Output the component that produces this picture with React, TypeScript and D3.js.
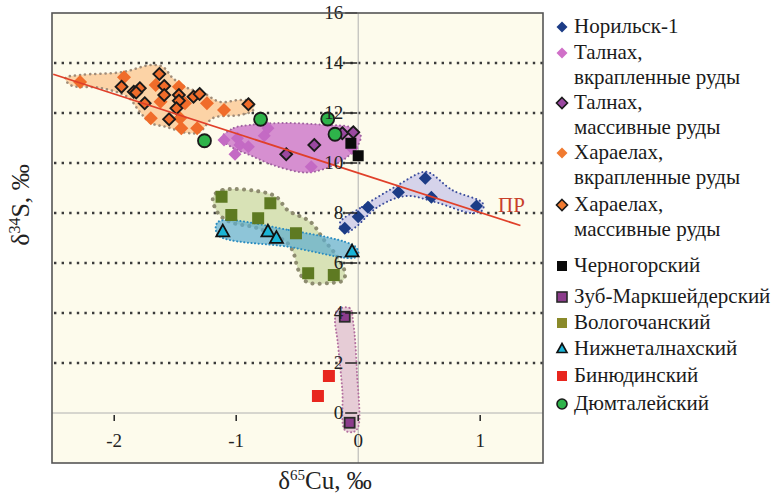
import React from "react";
import * as d3 from "d3";

type P = [number, number];

const xTicks = [-2, -1, 0, 1];
const yTicks = [0, 2, 4, 6, 8, 10, 12, 14, 16];
const gridY = [2, 4, 6, 8, 10, 12, 14];

const norilsk1: P[] = [[-0.11, 7.39], [0.0, 7.85], [0.08, 8.23], [0.33, 8.83], [0.55, 9.39], [0.6, 8.63], [0.97, 8.28]];
const talnakhDiss: P[] = [[-1.1, 10.92], [-0.99, 10.99], [-0.97, 10.72], [-0.9, 10.65], [-1.01, 10.35], [-0.77, 11.09], [-0.74, 11.39], [-0.385, 9.85], [-0.05, 10.59]];
const talnakhMass: P[] = [[-0.59, 10.35], [-0.36, 10.72], [-0.13, 11.19], [-0.04, 11.23]];
const kharDiss: P[] = [[-2.28, 13.24], [-1.92, 13.43], [-1.66, 13.12], [-1.47, 13.05], [-1.62, 12.45], [-1.42, 12.39], [-1.24, 12.39], [-1.1, 12.12], [-1.7, 11.79], [-1.46, 11.79], [-1.45, 11.39], [-1.32, 11.39]];
const kharMass: P[] = [[-1.63, 13.56], [-1.94, 13.05], [-1.84, 12.85], [-1.79, 12.99], [-1.82, 12.82], [-1.59, 13.08], [-1.59, 12.72], [-1.47, 12.72], [-1.47, 12.49], [-1.49, 12.19], [-1.75, 12.39], [-1.55, 11.75], [-1.35, 12.65], [-1.3, 12.76], [-0.9, 12.35]];
const chernogorsk: P[] = [[-0.06, 10.79], [0.0, 10.29]];
const zub: P[] = [[-0.11, 3.85], [-0.07, -0.39]];
const vologo: P[] = [[-1.12, 8.65], [-0.72, 8.39], [-1.04, 7.92], [-0.82, 7.79], [-0.51, 7.19], [-0.41, 5.59], [-0.2, 5.52]];
const nizhne: P[] = [[-1.11, 7.25], [-0.74, 7.25], [-0.67, 6.99], [-0.05, 6.45]];
const binyud: P[] = [[-0.24, 1.48], [-0.33, 0.68]];
const dyumt: P[] = [[-1.26, 10.89], [-0.8, 11.75], [-0.25, 11.76], [-0.19, 11.15]];

const trendLine: P[] = [[-2.5, 13.55], [1.33, 7.5]];

const envKhar: P[] = [[-2.4, 13.4], [-2.28, 13.52], [-1.93, 13.64], [-1.7, 13.92], [-1.6, 13.84], [-1.52, 13.4], [-1.4, 13.0], [-1.27, 12.8], [-1.13, 12.44], [-0.97, 12.52], [-0.87, 12.44], [-0.86, 12.12], [-0.97, 11.92], [-1.19, 11.8], [-1.3, 11.24], [-1.4, 11.2], [-1.57, 11.44], [-1.7, 11.6], [-1.79, 12.04], [-1.89, 12.64], [-2.11, 13.0], [-2.36, 13.12]];
const envTalnakh: P[] = [[-1.12, 11.0], [-1.02, 11.4], [-0.89, 11.52], [-0.61, 11.6], [-0.25, 11.52], [-0.07, 11.44], [0.02, 11.12], [-0.01, 10.64], [-0.09, 10.24], [-0.2, 9.92], [-0.37, 9.64], [-0.48, 9.64], [-0.7, 9.92], [-0.89, 10.32], [-1.04, 10.64]];
const envVologo: P[] = [[-1.19, 8.64], [-1.11, 8.92], [-0.75, 8.8], [-0.66, 8.6], [-0.58, 8.12], [-0.39, 7.64], [-0.28, 6.92], [-0.17, 6.24], [-0.11, 5.64], [-0.12, 5.32], [-0.23, 5.2], [-0.42, 5.24], [-0.49, 5.72], [-0.53, 6.4], [-0.58, 6.8], [-0.83, 7.4], [-1.05, 7.64], [-1.15, 8.0]];
const envNizhne: P[] = [[-1.15, 7.64], [-0.57, 7.32], [-0.02, 6.64], [0.0, 6.32], [-0.04, 6.2], [-0.56, 6.64], [-1.15, 7.12]];
const envNorilsk: P[] = [[-0.15, 7.6], [0.03, 8.24], [0.3, 9.04], [0.53, 9.64], [0.59, 9.6], [0.77, 8.92], [1.02, 8.4], [1.02, 8.12], [0.93, 8.0], [0.63, 8.44], [0.39, 8.68], [0.16, 8.24], [-0.02, 7.44], [-0.11, 7.2]];
const envZub: P[] = [[-0.17, 4.12], [-0.07, 4.2], [-0.04, 3.6], [-0.01, 1.6], [0.0, -0.56], [-0.04, -0.76], [-0.11, -0.68], [-0.13, 0.92], [-0.17, 2.92], [-0.19, 3.72]];

const legendLabels = [
  ["Норильск-1"],
  ["Талнах,", "вкрапленные руды"],
  ["Талнах,", "массивные руды"],
  ["Хараелах,", "вкрапленные руды"],
  ["Хараелах,", "массивные руды"],
  ["Черногорский"],
  ["Зуб-Маркшейдерский"],
  ["Вологочанский"],
  ["Нижнеталнахский"],
  ["Бинюдинский"],
  ["Дюмталейский"],
];
const legendY = [27, 53, 103, 153, 205, 266, 297, 323, 349, 376, 404];

const W = 775, H = 495;
const L = 52, R = 543, T = 13, B = 463;

const x = d3.scaleLinear().domain([-2.51, 1.515]).range([L, R]);
const y = d3.scaleLinear().domain([-2, 16]).range([B, T]);

type Shape = "diamond" | "square" | "triangle" | "circle";
function marker(shape: Shape, cx: number, cy: number, s: number, fill: string, stroke: string | null, sw = 1.6, key?: any) {
  const st = stroke ? { stroke, strokeWidth: sw } : {};
  if (shape === "diamond") {
    const h = s;
    return <path key={key} d={`M${cx},${cy - h}L${cx + h},${cy}L${cx},${cy + h}L${cx - h},${cy}Z`} fill={fill} {...st} strokeLinejoin="miter" />;
  }
  if (shape === "square") {
    return <rect key={key} x={cx - s} y={cy - s} width={2 * s} height={2 * s} fill={fill} {...st} />;
  }
  if (shape === "triangle") {
    return <path key={key} d={`M${cx},${cy - s * 1.1}L${cx + s},${cy + s * 0.7}L${cx - s},${cy + s * 0.7}Z`} fill={fill} {...st} strokeLinejoin="miter" />;
  }
  return <circle key={key} cx={cx} cy={cy} r={s} fill={fill} {...st} />;
}

const series = [
  { data: norilsk1, shape: "diamond" as Shape, fill: "#1c3c86", stroke: null, s: 6.5 },
  { data: talnakhDiss, shape: "diamond" as Shape, fill: "#c46ac4", stroke: null, s: 6.5 },
  { data: talnakhMass, shape: "diamond" as Shape, fill: "#9a48a0", stroke: "#1a1a1a", s: 6 },
  { data: kharDiss, shape: "diamond" as Shape, fill: "#f06c2a", stroke: null, s: 7 },
  { data: kharMass, shape: "diamond" as Shape, fill: "#f06c2a", stroke: "#1a1a1a", s: 6 },
  { data: chernogorsk, shape: "square" as Shape, fill: "#0a0a0a", stroke: null, s: 5.5 },
  { data: zub, shape: "square" as Shape, fill: "#8c3c8c", stroke: "#2a2a2a", s: 5 },
  { data: vologo, shape: "square" as Shape, fill: "#5e7a22", stroke: null, s: 6 },
  { data: nizhne, shape: "triangle" as Shape, fill: "#1ab4d6", stroke: "#111", s: 6.5 },
  { data: binyud, shape: "square" as Shape, fill: "#e8261e", stroke: null, s: 6 },
  { data: dyumt, shape: "circle" as Shape, fill: "#2eb34a", stroke: "#1a1a1a", s: 6.5 },
];

const legendMarkers = [
  { shape: "diamond" as Shape, fill: "#1c3c86", stroke: null },
  { shape: "diamond" as Shape, fill: "#d070c8", stroke: null },
  { shape: "diamond" as Shape, fill: "#9a48a0", stroke: "#1a1a1a" },
  { shape: "diamond" as Shape, fill: "#f07a30", stroke: null },
  { shape: "diamond" as Shape, fill: "#f07a30", stroke: "#1a1a1a" },
  { shape: "square" as Shape, fill: "#0a0a0a", stroke: null },
  { shape: "square" as Shape, fill: "#8c3c8c", stroke: "#2a2a2a" },
  { shape: "square" as Shape, fill: "#8a8a2a", stroke: null },
  { shape: "triangle" as Shape, fill: "#1ab4d6", stroke: "#111" },
  { shape: "square" as Shape, fill: "#e8261e", stroke: null },
  { shape: "circle" as Shape, fill: "#2eb34a", stroke: "#1a1a1a" },
];

const envelopes = [
  { pts: envKhar, fill: "#fcd3a6", stroke: "#a08c78", sw: 2.6, dash: "0.1 5", op: 1 },
  { pts: envTalnakh, fill: "#d68fd0", stroke: "#a063a0", sw: 2, dash: "0.1 4", op: 1 },
  { pts: envVologo, fill: "#d8e2b6", stroke: "#8e8c70", sw: 4, dash: "0.1 7", op: 1 },
  { pts: envNizhne, fill: "#5eaed0", stroke: "#2a8cc0", sw: 2, dash: "0.1 3.5", op: 0.7 },
  { pts: envNorilsk, fill: "#d5d3ea", stroke: "#3a4c9c", sw: 2, dash: "0.1 4", op: 1 },
  { pts: envZub, fill: "#e6ccd6", stroke: "#b36f9f", sw: 2, dash: "0.1 3.5", op: 1 },
];

const tf = { fontFamily: "Liberation Serif, Times New Roman, DejaVu Serif, serif" };

export default function App() {
  const closed = d3.line<P>().x((d) => x(d[0])).y((d) => y(d[1])).curve(d3.curveCatmullRomClosed.alpha(0.5));
  const straight = d3.line<P>().x((d) => x(d[0])).y((d) => y(d[1]));
  return (
    <svg width={W} height={H} style={{ position: "absolute", left: 0, top: 0, background: "#ffffff", ...tf }}>
      <rect x={L} y={T} width={R - L} height={B - T} fill="#fdfbec" />
      {gridY.map((g) => (
        <line key={g} x1={L + 2} x2={R} y1={y(g)} y2={y(g)} stroke="#3a3a3a" strokeWidth={2.4} strokeDasharray="2.4 5.2" />
      ))}
      <line x1={x(0)} x2={x(0)} y1={T} y2={B} stroke="#b0b0b0" strokeWidth={1} />
      <line x1={L} x2={R} y1={y(0)} y2={y(0)} stroke="#b0b0b0" strokeWidth={1} />
      {envelopes.map((e, i) => (
        <path key={i} d={closed(e.pts) || ""} fill={e.fill} fillOpacity={e.op} stroke={e.stroke} strokeWidth={e.sw} strokeDasharray={e.dash} strokeLinecap="round" />
      ))}
      {series.map((s, i) => (
        <g key={i}>{s.data.map((d, j) => marker(s.shape, x(d[0]), y(d[1]), s.s, s.fill, s.stroke, 1.8, j))}</g>
      ))}
      <path d={straight(trendLine) || ""} stroke="#e0402a" strokeWidth={1.8} fill="none" />
      <text x={498} y={212} fill="#c8402a" fontSize={21} style={tf}>ПР</text>
      {xTicks.map((t) => (
        <g key={t}>
          <line x1={x(t)} x2={x(t)} y1={y(0) + 2} y2={y(0) + 8} stroke="#222" strokeWidth={1.5} />
          <text x={x(t)} y={447} textAnchor="middle" fontSize={19} fill="#222" style={tf}>{t}</text>
        </g>
      ))}
      {yTicks.map((t) => (
        <g key={t}>
          <line x1={x(0) - 13} x2={x(0) - 1} y1={y(t)} y2={y(t)} stroke="#222" strokeWidth={1.5} />
          <text x={x(0) - 15} y={y(t) + 6} textAnchor="end" fontSize={19} fill="#222" style={tf}>{t}</text>
        </g>
      ))}
      <rect x={L} y={T} width={R - L} height={B - T} fill="none" stroke="#555" strokeWidth={1.6} />
      <text x={325} y={489} textAnchor="middle" fontSize={25} fill="#222" style={tf}>
        δ<tspan dy={-9} fontSize={15}>65</tspan><tspan dy={9}>Cu, ‰</tspan>
      </text>
      <text transform="translate(29,205) rotate(-90)" textAnchor="middle" fontSize={26} fill="#222" style={tf}>
        δ<tspan dy={-9} fontSize={16}>34</tspan><tspan dy={9}>S, ‰</tspan>
      </text>
      {legendLabels.map((lines, i) => (
        <g key={i}>
          {marker(legendMarkers[i].shape, 562, legendY[i], legendMarkers[i].shape === "diamond" ? 5.5 : 5, legendMarkers[i].fill, legendMarkers[i].stroke, 1.6)}
          {lines.map((ln, k) => (
            <text key={k} x={574} y={legendY[i] + 6 + k * 25} fontSize={21} fill="#1a1a1a" style={tf}>{ln}</text>
          ))}
        </g>
      ))}
    </svg>
  );
}
